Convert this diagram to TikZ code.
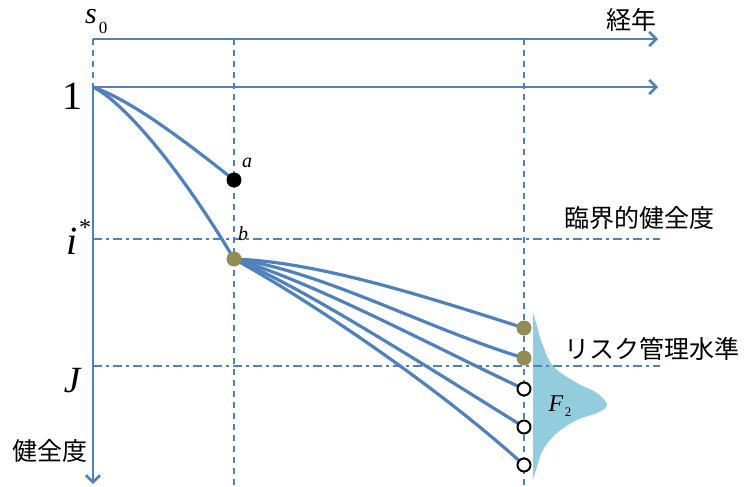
\documentclass[tikz,border=0pt]{standalone}
\usepackage{fontspec}
\setmainfont{Liberation Serif}
\newfontfamily\jp{Noto Sans CJK JP}
\usetikzlibrary{arrows.meta}
\definecolor{axblue}{HTML}{4F81BD}
\definecolor{olivedot}{HTML}{948A54}
\definecolor{distblue}{HTML}{93CDDD}
\begin{document}
\begin{tikzpicture}[x=1pt,y=-1pt,
  axis/.style={axblue,line width=2.6pt,-{Straight Barb[length=7pt,width=14pt]}},
  curve/.style={axblue,line width=3.2pt},
  guide/.style={axblue,line width=1.7pt,dash pattern=on 6pt off 5pt},
  level/.style={axblue,line width=1.7pt,dash pattern=on 9pt off 4pt on 3pt off 4pt},
  fdot/.style={circle,fill=#1,inner sep=0pt,minimum size=15pt},
  odot/.style={circle,draw=black,fill=white,line width=2pt,inner sep=0pt,minimum size=13pt},
  jlab/.style={font=\jp\fontsize{25}{27}\selectfont,inner sep=0pt},
  mlab/.style={font=\itshape,inner sep=0pt}]
\useasboundingbox (0,0) rectangle (750,487);

% key coordinates
\coordinate (o) at (93,87);
\coordinate (top0) at (93,39);
\coordinate (topE) at (658,39);
\coordinate (oneE) at (658,87);
\coordinate (down) at (93,484);
\coordinate (pa) at (234,180);
\coordinate (pb) at (234,259);
\coordinate (p1) at (524,328);
\coordinate (p2) at (524,358);
\coordinate (p3) at (524,389);
\coordinate (p4) at (524,427);
\coordinate (p5) at (524,465);

% distribution
\fill[distblue] plot[smooth,tension=0.6] coordinates {(533,312) (537,326) (542,343) (553,366) (577,383) (597,393) (607,405) (597,413) (577,420) (557,433) (543,450) (536,470) (533,480)} -- cycle;

% guide lines
\draw[guide] (234,39) -- (234,487);
\draw[guide] (524,39) -- (524,487);
\draw[guide] (top0) -- (o);
\draw[level] (93,239) -- (660,239);
\draw[level] (93,366) -- (660,366);

% axes
\draw[axis] (top0) -- (topE);
\draw[axis] (o) -- (oneE);
\draw[axis] (o) -- (down);

% curves
\draw[curve] (o) .. controls (130,100) and (180,137) .. (pa);
\draw[curve] (o) .. controls (120,100) and (175,160) .. (pb);
\draw[curve] (pb) .. controls (320,262) and (430,298) .. (p1);
\draw[curve] (pb) .. controls (320,270) and (430,330) .. (p2);
\draw[curve] (pb) .. controls (310,280) and (440,350) .. (p3);
\draw[curve] (pb) .. controls (300,285) and (440,375) .. (p4);
\draw[curve] (pb) .. controls (300,295) and (430,380) .. (p5);

% points
\node[fdot=black] (a) at (pa) {};
\node[fdot=olivedot] (b) at (pb) {};
\node[fdot=olivedot] (e1) at (p1) {};
\node[fdot=olivedot] (e2) at (p2) {};
\node[odot] (e3) at (p3) {};
\node[odot] (e4) at (p4) {};
\node[odot] (e5) at (p5) {};

% labels
\node[mlab,font=\itshape\fontsize{30}{32}\selectfont] (s) at (91,17) {s};
\node[inner sep=0pt,font=\fontsize{17}{19}\selectfont] (s0) at (103,28) {0};
\node[jlab] (nen) at (631,20) {経年};
\node[inner sep=0pt,font=\fontsize{40}{42}\selectfont] (one) at (72,96) {1};
\node[mlab,font=\itshape\fontsize{40}{42}\selectfont] (istar) at (72,241) {i};
\node[inner sep=0pt,font=\fontsize{24}{26}\selectfont] (star) at (85,228) {*};
\node[mlab,font=\itshape\fontsize{37}{39}\selectfont] (J) at (72,381) {J};
\node[jlab] (kenzen) at (50,451) {健全度};
\node[jlab] (rinkai) at (639,218) {臨界的健全度};
\node[jlab] (risk) at (652,349) {リスク管理水準};
\node[mlab,font=\itshape\fontsize{24}{26}\selectfont] (F) at (556,404) {F};
\node[inner sep=0pt,font=\fontsize{13}{15}\selectfont] (F2) at (568,412) {2};
\node[mlab,font=\itshape\fontsize{20}{22}\selectfont] (la) at (247,163) {a};
\node[mlab,font=\itshape\fontsize{20}{22}\selectfont] (lb) at (243,234) {b};
\end{tikzpicture}
\end{document}
